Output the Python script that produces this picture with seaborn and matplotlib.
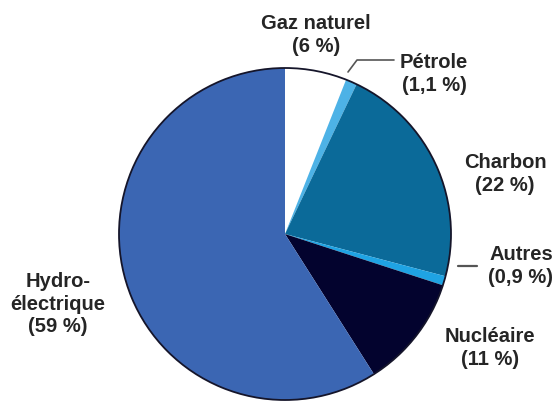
import matplotlib
matplotlib.use("Agg")
import matplotlib.pyplot as plt
import seaborn as sns

# ---- data ----
categories = ["Gaz naturel", "Pétrole", "Charbon", "Autres", "Nucléaire", "Hydro-\nélectrique"]
shares = [6, 1.1, 22, 0.9, 11, 59]
share_labels = ["6 %", "1,1 %", "22 %", "0,9 %", "11 %", "59 %"]
colors = ["#ffffff", "#4db2e6", "#0b6a99", "#1fa3e3", "#03032e", "#3b66b3"]

sns.set_theme(style="white")
plt.rcParams["font.family"] = ["Liberation Sans", "DejaVu Sans"]

W, H = 554, 403
fig = plt.figure(figsize=(W / 100, H / 100), dpi=100)
cx, cy, r = 285, 234, 166
ax = fig.add_axes([(cx - r) / W, (H - cy - r) / H, 2 * r / W, 2 * r / H])

ax.pie(shares, colors=colors, startangle=90, counterclock=False,
       wedgeprops=dict(linewidth=0, edgecolor="none"), radius=1)
# outer outline
ax.pie([1], colors=["none"], radius=1,
       wedgeprops=dict(linewidth=1.3, edgecolor="#15152a", facecolor="none"))
ax.set_xlim(-1, 1)
ax.set_ylim(-1, 1)
ax.set_aspect("equal")
ax.axis("off")

# label layout (pixel positions of text block centres)
label_pos = [(316, 35), (434, 74), (505, 174), (521, 266), (490, 348), (58, 304)]
for name, pct, (px, py) in zip(categories, share_labels, label_pos):
    fig.text(px / W, 1 - py / H, f"{name}\n({pct})", ha="center", va="center",
             fontsize=14.5, fontweight="bold", color="#252525", linespacing=1.25)

# leader lines
lc = "#555555"
fig.add_artist(plt.Line2D([348 / W, 357 / W, 394 / W], [1 - 72 / H, 1 - 60 / H, 1 - 60 / H],
                          color=lc, lw=1.2))
fig.add_artist(plt.Line2D([458 / W, 477 / W], [1 - 266 / H, 1 - 266 / H], color=lc, lw=1.6))

fig.savefig("out.png", dpi=100)
